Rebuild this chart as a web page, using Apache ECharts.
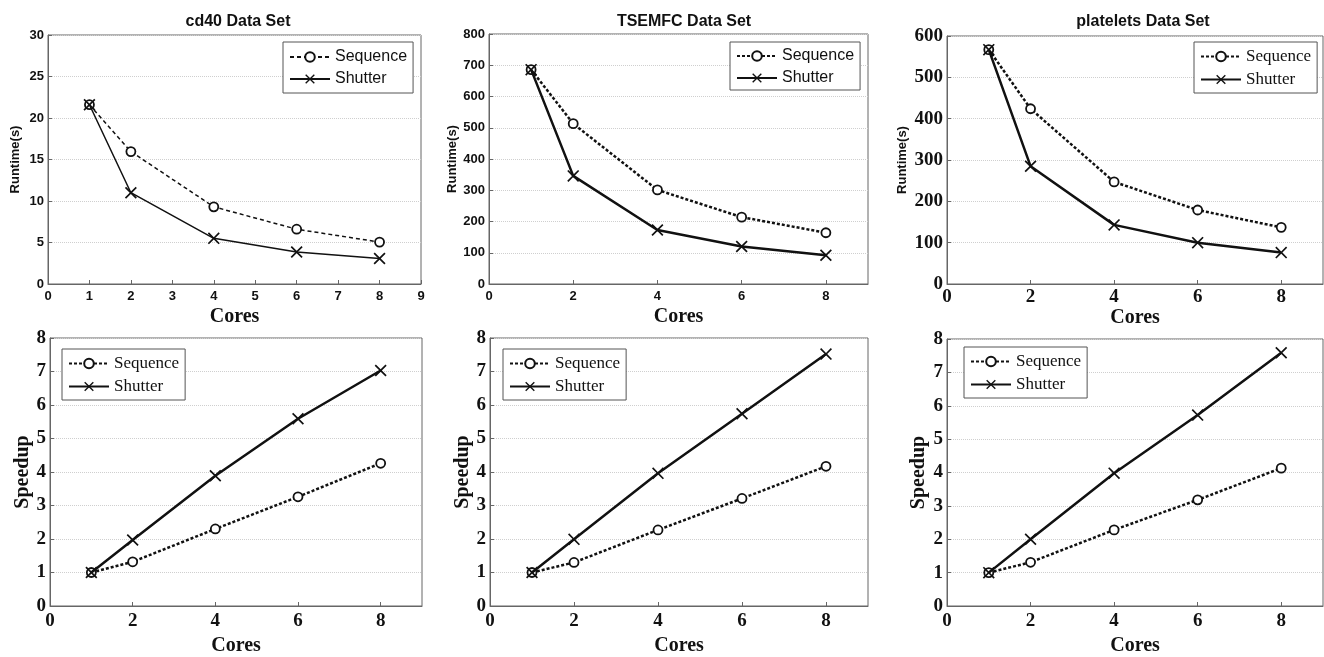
<!DOCTYPE html>
<html>
<head>
<meta charset="utf-8">
<script src="https://cdn.jsdelivr.net/npm/echarts@6/dist/echarts.min.js"></script>
<style>
html,body{margin:0;padding:0;background:#fff;}
#main{width:1324px;height:657px;}
</style>
</head>
<body>
<div id="main"></div>
<script>
var cores = [1, 2, 4, 6, 8];
var titles = ['cd40 Data Set', 'TSEMFC Data Set', 'platelets Data Set'];

// runtime (s)
var cd40Seq = [21.6, 15.95, 9.3, 6.6, 5.05];
var cd40Shut = [21.6, 11.0, 5.5, 3.85, 3.08];
var tsemfcSeq = [686, 513, 301, 214, 164];
var tsemfcShut = [686, 346, 173, 120, 92];
var plateletsSeq = [567, 424, 247, 179, 137];
var plateletsShut = [567, 285, 143, 100, 76];

// speedup
var cd40SpSeq = [1, 1.32, 2.30, 3.26, 4.26];
var cd40SpShut = [1, 1.97, 3.89, 5.59, 7.03];
var tsemfcSpSeq = [1, 1.30, 2.27, 3.21, 4.17];
var tsemfcSpShut = [1, 1.99, 3.96, 5.74, 7.52];
var plateletsSpSeq = [1, 1.31, 2.28, 3.18, 4.13];
var plateletsSpShut = [1, 2.0, 3.98, 5.72, 7.59];

var X_PATH = 'path://M0,1L1,0L5,4L9,0L10,1L6,5L10,9L9,10L5,6L1,10L0,9L4,5Z';
var SANS = 'Liberation Sans';
var SERIF = 'Liberation Serif';

function pts(v){
    var out = [];
    for(var i=0;i<cores.length;i++) out.push([cores[i], v[i]]);
    return out;
}

// panel layouts
var panels = [
    {grid:{left:48,top:35,width:373,height:249}, ymax:30, yint:5, xint:1, yname:'Runtime(s)', seq:cd40Seq, shut:cd40Shut,
     tickFont:SANS, tickSize:13, ynameFont:SANS, ynameSize:13, ynameGap:26, xnameGap:23, xlabMargin:6, lw:1.5, dash:[4,3],
     legFont:SANS, legSize:16, leg:{left:283, top:42}, legPad:[7,6,6,6]},
    {grid:{left:489,top:34,width:379,height:250}, ymax:800, yint:100, xint:2, yname:'Runtime(s)', seq:tsemfcSeq, shut:tsemfcShut,
     tickFont:SANS, tickSize:13, ynameFont:SANS, ynameSize:13, ynameGap:27, xnameGap:23, xlabMargin:6, lw:2.5, dash:[3,2],
     legFont:SANS, legSize:16, leg:{left:730, top:42}, legPad:[6,6,4,6]},
    {grid:{left:947,top:36,width:376,height:248}, ymax:600, yint:100, xint:2, yname:'Runtime(s)', seq:plateletsSeq, shut:plateletsShut,
     tickFont:SERIF, tickSize:19, ynameFont:SANS, ynameSize:13, ynameGap:38, xnameGap:23, xlabMargin:4, lw:2.5, dash:[3,2],
     legFont:SERIF, legSize:17, leg:{left:1194, top:42}, legPad:[6,6,5,6]},
    {grid:{left:50,top:338,width:372,height:268}, ymax:8, yint:1, xint:2, yname:'Speedup', seq:cd40SpSeq, shut:cd40SpShut,
     tickFont:SERIF, tickSize:19, ynameFont:SERIF, ynameSize:20, ynameGap:14, xnameGap:30, xlabMargin:6, lw:2.5, dash:[3,2],
     legFont:SERIF, legSize:17, leg:{left:62, top:349}, legPad:[6,6,5,6]},
    {grid:{left:490,top:338,width:378,height:269}, ymax:8, yint:1, xint:2, yname:'Speedup', seq:tsemfcSpSeq, shut:tsemfcSpShut,
     tickFont:SERIF, tickSize:19, ynameFont:SERIF, ynameSize:20, ynameGap:14, xnameGap:30, xlabMargin:6, lw:2.5, dash:[3,2],
     legFont:SERIF, legSize:17, leg:{left:503, top:349}, legPad:[6,6,5,6]},
    {grid:{left:947,top:339,width:376,height:267}, ymax:8, yint:1, xint:2, yname:'Speedup', seq:plateletsSpSeq, shut:plateletsSpShut,
     tickFont:SERIF, tickSize:19, ynameFont:SERIF, ynameSize:20, ynameGap:18, xnameGap:30, xlabMargin:6, lw:2.5, dash:[3,2],
     legFont:SERIF, legSize:17, leg:{left:964, top:347}, legPad:[6,6,5,6]}
];

var option = {
    backgroundColor:'#fff',
    animation:false,
    title:[], grid:[], xAxis:[], yAxis:[], legend:[], series:[]
};

var titleX = [233, 679, 1138];
for(var t=0;t<titles.length;t++){
    option.title.push({
        text:titles[t], left:titleX[t], top:9, textAlign:'center',
        textStyle:{fontFamily:SANS, fontWeight:'bold', fontSize:16, color:'#111'}
    });
}

panels.forEach(function(p, i){
    var g = p.grid;
    option.grid.push({left:g.left, top:g.top, width:g.width, height:g.height, show:true,
        borderColor:'#666', borderWidth:1, backgroundColor:'#fff'});
    option.xAxis.push({
        type:'value', gridIndex:i, min:0, max:9, interval:p.xint,
        name:'Cores', nameLocation:'middle', nameGap:p.xnameGap,
        nameTextStyle:{fontFamily:SERIF, fontWeight:'bold', fontSize:20, color:'#111'},
        axisLine:{show:true, lineStyle:{color:'#666'}},
        axisTick:{show:true, inside:true, length:4, lineStyle:{color:'#666'}},
        axisLabel:{fontFamily:p.tickFont, fontWeight:'bold', fontSize:p.tickSize, color:'#111', margin:p.xlabMargin,
            showMaxLabel:p.xint===1},
        splitLine:{show:false}
    });
    option.yAxis.push({
        type:'value', gridIndex:i, min:0, max:p.ymax, interval:p.yint,
        name:p.yname, nameLocation:'middle', nameGap:p.ynameGap, nameRotate:90,
        nameTextStyle:{fontFamily:p.ynameFont, fontWeight:'bold', fontSize:p.ynameSize, color:'#111'},
        axisLine:{show:true, lineStyle:{color:'#666'}},
        axisTick:{show:true, inside:true, length:4, lineStyle:{color:'#666'}},
        axisLabel:{fontFamily:p.tickFont, fontWeight:'bold', fontSize:p.tickSize, color:'#111', margin:4},
        splitLine:{show:true, lineStyle:{color:'#cfcfcf', type:'dotted', width:1}}
    });
    var seqName = 'Sequence', shutName = 'Shutter';
    option.legend.push({
        left:p.leg.left, top:p.leg.top, orient:'vertical',
        data:[seqName+'#'+i, shutName+'#'+i].map(function(n){return {name:n};}),
        formatter:function(n){return n.split('#')[0];},
        itemWidth:40, itemHeight:12, itemGap:6,
        padding:p.legPad,
        borderColor:'#555', borderWidth:1, backgroundColor:'#fff',
        textStyle:{fontFamily:p.legFont, fontSize:p.legSize, color:'#111'}
    });
    option.series.push({
        name:seqName+'#'+i, type:'line', xAxisIndex:i, yAxisIndex:i, data:pts(p.seq),
        symbol:'circle', symbolSize:9,
        itemStyle:{color:'#fff', borderColor:'#111', borderWidth:1.8},
        lineStyle:{color:'#111', width:p.lw, type:p.dash}, z:3
    });
    option.series.push({
        name:shutName+'#'+i, type:'line', xAxisIndex:i, yAxisIndex:i, data:pts(p.shut),
        symbol:X_PATH, symbolSize:12,
        itemStyle:{color:'#111', borderWidth:0},
        lineStyle:{color:'#111', width:p.lw, type:'solid'}, z:4
    });
});

var myChart = echarts.init(document.getElementById('main'));
myChart.setOption(option);
</script>
</body>
</html>
